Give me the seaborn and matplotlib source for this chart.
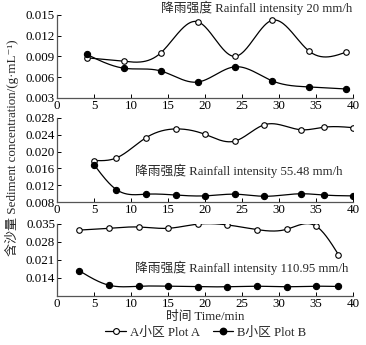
import numpy as np
import pandas as pd
import matplotlib
matplotlib.use("Agg")
import matplotlib.pyplot as plt
from matplotlib.lines import Line2D
from matplotlib.ticker import FormatStrFormatter
import seaborn as sns

# ---------------- data ----------------
time1 = [4, 9, 14, 19, 24, 29, 34, 39]
plotA_20 = [0.0088, 0.0083, 0.0095, 0.0140, 0.0090, 0.0142, 0.0098, 0.0096]
plotB_20 = [0.0093, 0.0073, 0.0069, 0.0053, 0.0075, 0.0055, 0.0046, 0.0043]

time2 = [5, 8, 12, 16, 20, 24, 28, 33, 36, 40]
plotA_55 = [0.0179, 0.0185, 0.0233, 0.0254, 0.0241, 0.0225, 0.0264, 0.0252, 0.0258, 0.0257]
plotB_55 = [0.0169, 0.0110, 0.0099, 0.0097, 0.0095, 0.0099, 0.0094, 0.0100, 0.0097, 0.0095]

time3 = [3, 7, 11, 15, 19, 23, 27, 31, 35, 38]
plotA_110 = [0.0326, 0.0333, 0.0338, 0.0333, 0.0349, 0.0346, 0.0328, 0.0329, 0.0341, 0.0231]
plotB_110 = [0.0168, 0.0112, 0.0108, 0.0108, 0.0106, 0.0106, 0.0108, 0.0106, 0.0108, 0.0107]

panel_titles = ["降雨强度 Rainfall intensity 20 mm/h",
                "降雨强度 Rainfall intensity 55.48 mm/h",
                "降雨强度 Rainfall intensity 110.95 mm/h"]
series_labels = ["A小区 Plot A", "B小区 Plot B"]
xlabel = "时间 Time/min"
ylabel = "含沙量 Sediment concentration/(g·mL⁻¹)"
xticks = [0, 5, 10, 15, 20, 25, 30, 35, 40]
yticks1 = [0.003, 0.006, 0.009, 0.012, 0.015]
yticks2 = [0.008, 0.012, 0.016, 0.020, 0.024, 0.028]
yticks3 = [0.014, 0.021, 0.028, 0.035]

# ---------------- style ----------------
sns.set_style("ticks")
plt.rcParams["font.family"] = ["Liberation Serif", "Noto Sans CJK SC", "DejaVu Serif"]


def smooth(x, y, n=300):
    """Natural cubic spline used only to render the connecting line."""
    x = np.asarray(x, float)
    y = np.asarray(y, float)
    k = len(x)
    h = np.diff(x)
    A = np.zeros((k, k))
    r = np.zeros(k)
    A[0, 0] = 1
    A[-1, -1] = 1
    for i in range(1, k - 1):
        A[i, i - 1] = h[i - 1]
        A[i, i] = 2 * (h[i - 1] + h[i])
        A[i, i + 1] = h[i]
        r[i] = 6 * ((y[i + 1] - y[i]) / h[i] - (y[i] - y[i - 1]) / h[i - 1])
    M = np.linalg.solve(A, r)
    xs = np.linspace(x[0], x[-1], n)
    idx = np.clip(np.searchsorted(x, xs) - 1, 0, k - 2)
    x0, x1 = x[idx], x[idx + 1]
    hh = x1 - x0
    a = (x1 - xs) / hh
    b = (xs - x0) / hh
    ys = (a * y[idx] + b * y[idx + 1]
          + ((a ** 3 - a) * M[idx] + (b ** 3 - b) * M[idx + 1]) * hh ** 2 / 6)
    return xs, ys


fig = plt.figure(figsize=(3.66, 3.45), dpi=100)
left, width = 0.156, 0.809
positions = [(0.716, 0.241), (0.414, 0.244), (0.142, 0.209)]
panels = [
    (time1, plotA_20, plotB_20, (0.003, 0.015), yticks1, (39.9, 1.085)),
    (time2, plotA_55, plotB_55, (0.008, 0.028), yticks2, (38.6, 0.37)),
    (time3, plotA_110, plotB_110, (0.007, 0.035), yticks3, (39.3, 0.39)),
]

fs = 9.2
for i, ((bot, h), (t, a, b, ylim, yt, tpos), title) in enumerate(zip(positions, panels, panel_titles)):
    ax = fig.add_axes([left, bot, width, h])
    for vals, fc in ((a, "white"), (b, "black")):
        xs, ys = smooth(t, vals)
        sns.lineplot(x=xs, y=ys, ax=ax, color="black", lw=0.9,
                     estimator=None, sort=False, legend=False)
        sns.scatterplot(x=t, y=vals, ax=ax, color=fc, edgecolor="black",
                        linewidth=0.8, s=16 if fc == "white" else 20,
                        zorder=3, legend=False)
    ax.set_xlim(0, 40)
    ax.set_ylim(*ylim)
    ax.set_xticks(xticks)
    ax.set_yticks(yt)
    ax.yaxis.set_major_formatter(FormatStrFormatter("%.3f"))
    ax.tick_params(direction="in", length=3, width=0.7, labelsize=9.4, pad=1.5,
                   colors="black")
    for s in ("top", "right"):
        ax.spines[s].set_visible(False)
    for s in ("left", "bottom"):
        ax.spines[s].set_color("#555555")
        ax.spines[s].set_linewidth(0.9)
    ax.text(tpos[0], tpos[1], title, transform=ax.get_xaxis_transform(),
            ha="right", va="center", fontsize=fs)
    ax.set_xlabel("")
    ax.set_ylabel("")
    if i == 2:
        ax.set_xlabel(xlabel, fontsize=fs, labelpad=1)

fig.text(0.033, 0.571, ylabel, rotation=90, ha="center", va="center", fontsize=9.4)

handles = [
    Line2D([], [], color="black", lw=0.9, marker="o", markerfacecolor="white",
           markeredgecolor="black", markersize=4.2, markeredgewidth=0.8),
    Line2D([], [], color="black", lw=0.9, marker="o", markerfacecolor="black",
           markeredgecolor="black", markersize=4.6),
]
fig.legend(handles, series_labels, loc="center", bbox_to_anchor=(0.562, 0.035),
           ncol=2, frameon=False, fontsize=fs, handlelength=1.6,
           handletextpad=0.3, columnspacing=1.0, borderaxespad=0)

fig.savefig("out.png", dpi=100)
